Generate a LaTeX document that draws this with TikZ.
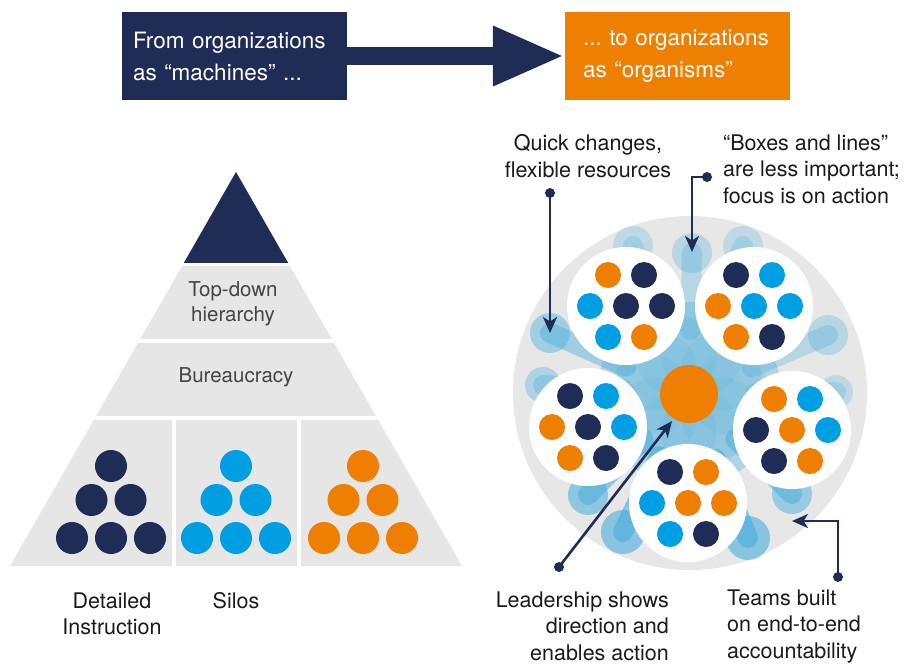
\documentclass[tikz,border=0pt]{standalone}
\usepackage{fontspec}
\setmainfont{TeX Gyre Heros}
\usetikzlibrary{arrows.meta,calc}
\definecolor{navy}{HTML}{1F2D56}
\definecolor{orng}{HTML}{EF7F00}
\definecolor{cyanb}{HTML}{009FE3}
\definecolor{pgray}{HTML}{E6E6E6}
\definecolor{ogray}{HTML}{E7E7E7}
\definecolor{txt}{HTML}{1A1A1A}
\definecolor{ptxt}{HTML}{444444}
\definecolor{blob}{HTML}{4AAEDC}
\frenchspacing
\begin{document}
\begin{tikzpicture}[x=1pt,y=-1pt,
  banner/.style={minimum height=88pt, inner xsep=11pt, inner ysep=0pt, text width=203pt,
    align=left, text=white, font=\fontsize{22.5}{32}\selectfont},
  lbl/.style={text=txt, inner sep=0pt, font=\fontsize{21.5}{26.5}\selectfont},
  plbl/.style={text=ptxt, inner sep=0pt, font=\fontsize{20.5}{25}\selectfont},
  callout/.style={draw=navy, line width=2.6pt, -{Stealth[length=16pt,width=14pt,inset=4.5pt]}},
  sepline/.style={white, line width=3.5pt}
]
\useasboundingbox (0,0) rectangle (905,665);

% ---------- banner ----------
\node[banner, fill=navy] (mach) at (234.5,56) {From organizations\\as “machines” ...};
\node[banner, fill=orng, inner xsep=18pt, text width=189pt] (orgs) at (677.5,56) {... to organizations\\as “organisms”};
\draw[navy, line width=18pt, -{Triangle[length=72pt,width=55pt]}] (mach.east) -- (orgs.west);

% ---------- pyramid ----------
\fill[pgray] (236,172) -- (10,566) -- (462,566) -- cycle;
\fill[navy] (236,172) -- (183.8,263) -- (288.2,263) -- cycle;
\draw[sepline] (0,264.5) -- (480,264.5);
\draw[sepline] (0,341) -- (480,341);
\draw[sepline] (0,418) -- (480,418);
\draw[sepline] (174,418) -- (174,570);
\draw[sepline] (299,418) -- (299,570);
\foreach \cx/\col in {111/navy, 236/cyanb, 363/orng}{
  \foreach \dx/\dy in {0/0, -19.5/34, 19.5/34, -39/72, 0/72, 39/72}{
    \fill[\col] (\cx+\dx, 466+\dy) circle[radius=16pt];
  }
}
\node[plbl, align=center] (tdh) at (233,304) {Top-down\\hierarchy};
\node[plbl] (bur) at (236,377) {Bureaucracy};
\node[lbl, align=center] (det) at (112,614) {Detailed\\Instruction};
\node[lbl] (silos) at (236,601) {Silos};

% ---------- organism ----------
\coordinate (C) at (689,394);
\fill[ogray] (690,393) circle[radius=177pt];
\fill[blob, opacity=0.35] (C) circle[radius=92pt];
\foreach \px/\py/\r/\o in {692/253/20/0.3, 633/246/20/0.25, 743/246/20/0.25, 550/333/20/0.45,
    543/385/18/0.35, 828/335/20/0.3, 836/392/17/0.25, 588/495/20/0.55, 623/532/22/0.6,
    748/538/22/0.6, 792/494/20/0.5}{
  \draw[blob, opacity=\o, line width=20pt, line cap=round] ($(C)!0.45!(\px,\py)$) -- (\px,\py);
  \fill[blob, opacity=\o] (\px,\py) circle[radius=\r pt];
}
\foreach \a in {0,36,...,324}{
  \fill[blob, opacity=0.15] ($(C)+(\a:40)$) circle[radius=40pt];
}
\foreach \x/\y/\a/\b/\c/\d/\e/\f/\g in {
    626/306/orng/navy/cyanb/navy/navy/cyanb/orng,
    754/306/navy/cyanb/orng/cyanb/cyanb/orng/navy,
    588/427/navy/cyanb/orng/navy/cyanb/orng/navy,
    792/430/orng/cyanb/navy/orng/cyanb/navy/orng,
    688/503/navy/orng/cyanb/orng/orng/cyanb/navy}{
  \fill[white] (\x,\y) circle[radius=59pt];
  \fill[\a] (\x-18,\y-31) circle[radius=13pt];
  \fill[\b] (\x+18,\y-31) circle[radius=13pt];
  \fill[\c] (\x-36,\y) circle[radius=13pt];
  \fill[\d] (\x,\y) circle[radius=13pt];
  \fill[\e] (\x+36,\y) circle[radius=13pt];
  \fill[\f] (\x-18,\y+31) circle[radius=13pt];
  \fill[\g] (\x+18,\y+31) circle[radius=13pt];
}
\fill[orng] (C) circle[radius=29pt];

% ---------- callouts ----------
\node[lbl, align=center] (quick) at (588,156) {Quick changes,\\flexible resources};
\node[lbl, align=left, anchor=west] (boxes) at (723,169) {“Boxes and lines”\\are less important;\\focus is on action};
\node[lbl, align=right, anchor=east] (lead) at (669,626) {Leadership shows\\direction and\\enables action};
\node[lbl, align=left, anchor=west] (teams) at (727,626) {Teams built\\on end-to-end\\accountability};

\coordinate (q0) at (550,193); \coordinate (q1) at (550,333);
\coordinate (b0) at (707,177); \coordinate (b1) at (692,252);
\coordinate (l0) at (559,567); \coordinate (l1) at (672,421);
\coordinate (t0) at (838,577); \coordinate (t1) at (792,521);
\foreach \p in {q0,b0,l0,t0}{ \fill[navy] (\p) circle[radius=5pt]; }
\draw[callout] (q0) -- (q1);
\draw[callout] (b0) -| (b1);
\draw[callout] (l0) -- (l1);
\draw[callout] (t0) |- (t1);
\end{tikzpicture}
\end{document}
